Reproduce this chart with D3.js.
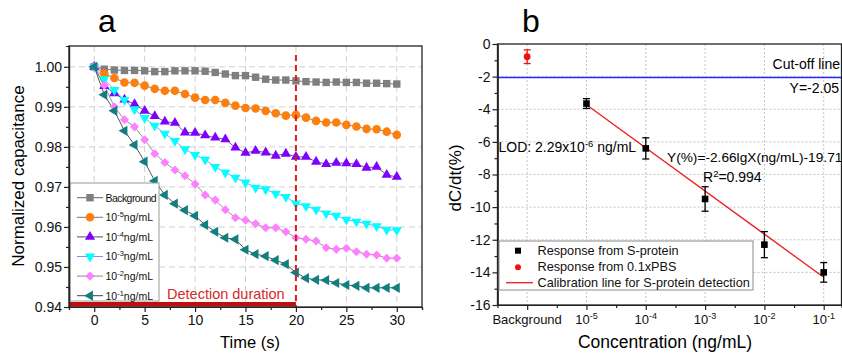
<!DOCTYPE html>
<html>
<head>
<meta charset="utf-8">
<script src="https://cdn.jsdelivr.net/npm/d3@7"></script>
<style>
body { margin: 0; background: #fff; }
svg { display: block; font-family: "Liberation Sans", Arial, sans-serif; }
</style>
</head>
<body>
<svg id="chart" width="842" height="358"></svg>
<script>
// ---------- panel a data ----------
const times = [0, 1, 2, 3, 4, 5, 6, 7, 8, 9, 10, 11, 12, 13, 14, 15, 16, 17, 18, 19, 20, 21, 22, 23, 24, 25, 26, 27, 28, 29, 30]
const seriesNames = ["Background", "-5", "-4", "-3", "-2", "-1"]
const backgroundVals = [1.0000, 0.9994, 0.9992, 0.9991, 0.9991, 0.9990, 0.9988, 0.9988, 0.9990, 0.9990, 0.9990, 0.9989, 0.9986, 0.9982, 0.9978, 0.9978, 0.9974, 0.9969, 0.9967, 0.9967, 0.9965, 0.9963, 0.9962, 0.9961, 0.9962, 0.9961, 0.9961, 0.9959, 0.9959, 0.9958, 0.9957]
const conc5Vals = [1.0000, 0.9983, 0.9972, 0.9961, 0.9960, 0.9953, 0.9945, 0.9940, 0.9940, 0.9932, 0.9923, 0.9917, 0.9917, 0.9910, 0.9903, 0.9897, 0.9896, 0.9890, 0.9884, 0.9878, 0.9880, 0.9873, 0.9865, 0.9861, 0.9861, 0.9855, 0.9851, 0.9845, 0.9844, 0.9838, 0.9830]
const conc4Vals = [1.0000, 0.9952, 0.9934, 0.9918, 0.9907, 0.9890, 0.9877, 0.9863, 0.9860, 0.9836, 0.9835, 0.9829, 0.9823, 0.9819, 0.9798, 0.9785, 0.9790, 0.9786, 0.9778, 0.9783, 0.9775, 0.9775, 0.9763, 0.9757, 0.9760, 0.9759, 0.9757, 0.9748, 0.9750, 0.9730, 0.9725]
const conc3Vals = [1.0000, 0.9969, 0.9942, 0.9917, 0.9894, 0.9872, 0.9853, 0.9833, 0.9815, 0.9794, 0.9780, 0.9768, 0.9750, 0.9736, 0.9723, 0.9711, 0.9698, 0.9694, 0.9683, 0.9675, 0.9659, 0.9652, 0.9643, 0.9634, 0.9628, 0.9618, 0.9613, 0.9608, 0.9602, 0.9593, 0.9592]
const conc2Vals = [1.0000, 0.9954, 0.9900, 0.9868, 0.9850, 0.9818, 0.9783, 0.9761, 0.9742, 0.9728, 0.9707, 0.9680, 0.9667, 0.9643, 0.9623, 0.9617, 0.9608, 0.9598, 0.9598, 0.9588, 0.9573, 0.9569, 0.9565, 0.9548, 0.9544, 0.9547, 0.9538, 0.9532, 0.9530, 0.9522, 0.9522]
const conc1Vals = [1.0000, 0.9930, 0.9890, 0.9840, 0.9805, 0.9763, 0.9715, 0.9680, 0.9658, 0.9642, 0.9628, 0.9605, 0.9588, 0.9573, 0.9569, 0.9543, 0.9532, 0.9527, 0.9517, 0.9507, 0.9486, 0.9472, 0.9468, 0.9467, 0.9460, 0.9455, 0.9453, 0.9448, 0.9448, 0.9448, 0.9448]
const detectionEnd = 20
const timeTicks = [0, 5, 10, 15, 20, 25, 30]
const capTicks = [0.94, 0.95, 0.96, 0.97, 0.98, 0.99, 1.00]

// ---------- panel b data ----------
const concExponents = [null, -5, -4, -3, -2, -1]   // index 0 = Background
const sProteinIdx = [1, 2, 3, 4, 5]
const sProteinMean = [-3.65, -6.4, -9.5, -12.3, -14.0]
const sProteinErr = [0.3, 0.65, 0.75, 0.8, 0.6]
const pbsIdx = [0]
const pbsMean = [-0.78]
const pbsErr = [0.42]
const calibIdx = [1, 5]
const calibVals = [-3.73, -14.3]
const cutoff = -2.05
const dcTicks = [0, -2, -4, -6, -8, -10, -12, -14, -16]

// ---------- styles ----------
const markerColors = ["#7f7f7f", "#ff7f0e", "#7f00ff", "#00ffff", "#ff80ff", "#117f7f"]
const lineColors = ["#666", "#777", "#555", "#8a8aff", "#888", "#444"]
const shapes = ["square", "circle", "up", "down", "diamond", "left"]

const svg = d3.select("#chart")

const drawMarker = (g, shape, color) => {
    if (shape === "square") {
        g.append("rect").attr("x", -3.7).attr("y", -3.7).attr("width", 7.4).attr("height", 7.4).attr("fill", color)
    } else if (shape === "circle") {
        g.append("circle").attr("r", 4.3).attr("fill", color)
    } else if (shape === "diamond") {
        g.append("rect").attr("x", -3.2).attr("y", -3.2).attr("width", 6.4).attr("height", 6.4)
            .attr("transform", "rotate(45)").attr("fill", color)
    } else {
        const rot = {up: 0, down: 180, left: -90}[shape]
        g.append("path").attr("d", d3.symbol(d3.symbolTriangle, 45)()).attr("transform", `rotate(${rot})`).attr("fill", color)
    }
}

// ================= panel a =================
const xA = d3.scaleLinear().domain([-2.5, 32.5]).range([69, 422])
const yA = d3.scaleLinear().domain([0.94, 1.0052]).range([307, 46])
const gA = svg.append("g")

gA.append("g").selectAll("line").data(timeTicks).join("line")
    .attr("x1", d => xA(d)).attr("x2", d => xA(d)).attr("y1", yA.range()[1]).attr("y2", yA.range()[0])
    .attr("stroke", "#d0d0d0").attr("stroke-dasharray", "6,4")
gA.append("g").selectAll("line").data(capTicks.slice(1)).join("line")
    .attr("x1", xA.range()[0]).attr("x2", xA.range()[1]).attr("y1", d => yA(d)).attr("y2", d => yA(d))
    .attr("stroke", "#d0d0d0").attr("stroke-dasharray", "6,4")

const seriesA = [backgroundVals, conc5Vals, conc4Vals, conc3Vals, conc2Vals, conc1Vals]
const lineA = d3.line().x((d, i) => xA(times[i])).y(d => yA(d))

seriesA.forEach((vals, s) => {
    gA.append("path").datum(vals).attr("d", lineA)
        .attr("fill", "none").attr("stroke", lineColors[s]).attr("stroke-width", 0.9)
})
seriesA.forEach((vals, s) => {
    gA.append("g").selectAll("g").data(vals).join("g")
        .attr("transform", (d, i) => `translate(${xA(times[i])},${yA(d)})`)
        .each(function () { drawMarker(d3.select(this), shapes[s], markerColors[s]) })
})

// detection duration
gA.append("line")
    .attr("x1", xA(detectionEnd)).attr("x2", xA(detectionEnd)).attr("y1", 55).attr("y2", yA(0.94))
    .attr("stroke", "#dd1c1c").attr("stroke-width", 2).attr("stroke-dasharray", "6,4")
gA.append("rect")
    .attr("x", xA(-2.5)).attr("y", 302).attr("width", xA(detectionEnd) - xA(-2.5)).attr("height", 4.5)
    .attr("fill", "#c00d0d")
gA.append("text").attr("x", 167).attr("y", 298.5).attr("fill", "#d42a2a")
    .attr("font-size", 14.5).text("Detection duration")

// legend a
const legA = gA.append("g")
legA.append("rect").attr("x", 70).attr("y", 183).attr("width", 89).attr("height", 118)
    .attr("fill", "#fff").attr("stroke", "#9a9a9a").attr("stroke-width", 1)
seriesNames.forEach((name, s) => {
    const cy = 197.7 + s * 19.6
    legA.append("line").attr("x1", 77).attr("x2", 103).attr("y1", cy).attr("y2", cy)
        .attr("stroke", lineColors[s]).attr("stroke-width", 1)
    drawMarker(legA.append("g").attr("transform", `translate(90,${cy})`), shapes[s], markerColors[s])
    const t = legA.append("text").attr("x", 105.5).attr("y", cy + 3.8).attr("font-size", 10.5).attr("fill", "#111")
    if (s === 0) t.attr("textLength", 51).text(name)
    else {
        t.append("tspan").text("10")
        t.append("tspan").attr("dy", -4).attr("font-size", 7.5).text(name)
        t.append("tspan").attr("dy", 4).text("ng/mL")
    }
})

// axes a
const axBottomA = gA.append("g").attr("transform", `translate(0,${yA(0.94)})`)
    .call(d3.axisBottom(xA).tickValues(timeTicks).tickSize(5).tickSizeOuter(0).tickPadding(3))
axBottomA.append("g").call(d3.axisBottom(xA).tickValues([-2.5, 2.5, 7.5, 12.5, 17.5, 22.5, 27.5, 32.5]).tickSize(3).tickFormat(""))
const axLeftA = gA.append("g").attr("transform", `translate(${xA(-2.5)},0)`)
    .call(d3.axisLeft(yA).tickValues(capTicks).tickFormat(d3.format(".2f")).tickSize(5).tickSizeOuter(0).tickPadding(2))
axLeftA.append("g").call(d3.axisLeft(yA).tickValues([0.945, 0.955, 0.965, 0.975, 0.985, 0.995]).tickSize(3).tickFormat(""))
gA.append("rect").attr("x", xA(-2.5)).attr("y", yA(1.0052)).attr("width", xA(32.5) - xA(-2.5)).attr("height", yA(0.94) - yA(1.0052))
    .attr("fill", "none").attr("stroke", "#222").attr("stroke-width", 1.3)

gA.append("text").attr("x", 250).attr("y", 348).attr("text-anchor", "middle").attr("font-size", 16.5).text("Time (s)")
gA.append("text").attr("transform", "translate(23.5,176) rotate(-90)").attr("text-anchor", "middle")
    .attr("font-size", 17).text("Normalized capacitance")
gA.append("text").attr("x", 107).attr("y", 32).attr("text-anchor", "middle").attr("font-size", 32).text("a")

// ================= panel b =================
const xB = d3.scaleLinear().domain([-0.5, 5.3]).range([497.5, 841.5])
const yB = d3.scaleLinear().domain([-16, 0]).range([305, 44])
const gB = svg.append("g")

gB.append("g").selectAll("line").data(concExponents.map((d, i) => i)).join("line")
    .attr("x1", d => xB(d)).attr("x2", d => xB(d)).attr("y1", yB(0)).attr("y2", yB(-16))
    .attr("stroke", "#c4c4c4").attr("stroke-dasharray", "2,2")
gB.append("g").selectAll("line").data(dcTicks.slice(1, -1)).join("line")
    .attr("x1", xB(-0.5)).attr("x2", xB(5.3)).attr("y1", d => yB(d)).attr("y2", d => yB(d))
    .attr("stroke", "#c4c4c4").attr("stroke-dasharray", "2,2")

// cut-off line
gB.append("line").attr("x1", xB(-0.5)).attr("x2", xB(5.3)).attr("y1", yB(cutoff)).attr("y2", yB(cutoff))
    .attr("stroke", "#2b2bff").attr("stroke-width", 1.6)

// calibration line
gB.append("path").datum(calibIdx.map((d, i) => [d, calibVals[i]]))
    .attr("d", d3.line().x(d => xB(d[0])).y(d => yB(d[1])))
    .attr("stroke", "#ee1c1c").attr("stroke-width", 1.3).attr("fill", "none")

const errBars = (idx, mean, err, color, shape) => {
    idx.forEach((c, i) => {
        const x = xB(c)
        const g = gB.append("g").attr("stroke", color).attr("stroke-width", 1.3)
        g.append("line").attr("x1", x).attr("x2", x).attr("y1", yB(mean[i] + err[i])).attr("y2", yB(mean[i] - err[i]))
        g.append("line").attr("x1", x - 3.5).attr("x2", x + 3.5).attr("y1", yB(mean[i] + err[i])).attr("y2", yB(mean[i] + err[i]))
        g.append("line").attr("x1", x - 3.5).attr("x2", x + 3.5).attr("y1", yB(mean[i] - err[i])).attr("y2", yB(mean[i] - err[i]))
        const m = gB.append("g").attr("transform", `translate(${x},${yB(mean[i])})`)
        if (shape === "square") m.append("rect").attr("x", -3.3).attr("y", -3.3).attr("width", 6.6).attr("height", 6.6).attr("fill", color)
        else m.append("circle").attr("r", 3.4).attr("fill", color)
    })
}
errBars(sProteinIdx, sProteinMean, sProteinErr, "#000", "square")
errBars(pbsIdx, pbsMean, pbsErr, "#ee1111", "circle")

// axes b
const axBottomB = gB.append("g").attr("transform", `translate(0,${yB(-16)})`)
    .call(d3.axisBottom(xB).tickValues(concExponents.map((d, i) => i)).tickSize(5).tickSizeOuter(0).tickFormat(""))
axBottomB.append("g").call(d3.axisBottom(xB).tickValues([0.5, 1.5, 2.5, 3.5, 4.5]).tickSize(3).tickFormat(""))
concExponents.forEach((e, i) => {
    const t = gB.append("text").attr("x", xB(i)).attr("y", 324).attr("text-anchor", "middle").attr("font-size", 13).attr("fill", "#111")
    if (e === null) t.text("Background")
    else {
        t.append("tspan").text("10")
        t.append("tspan").attr("dy", -5).attr("font-size", 9).text(String(e))
    }
})
const axLeftB = gB.append("g").attr("transform", `translate(${xB(-0.5)},0)`)
    .call(d3.axisLeft(yB).tickValues(dcTicks).tickFormat(d => String(d)).tickSize(5).tickSizeOuter(0).tickPadding(2))
axLeftB.append("g").call(d3.axisLeft(yB).tickValues([-1, -3, -5, -7, -9, -11, -13, -15]).tickSize(3).tickFormat(""))
gB.append("rect").attr("x", xB(-0.5)).attr("y", yB(0)).attr("width", xB(5.3) - xB(-0.5)).attr("height", yB(-16) - yB(0))
    .attr("fill", "none").attr("stroke", "#222").attr("stroke-width", 1.3)

// annotations b
gB.append("text").attr("x", 840).attr("y", 69).attr("text-anchor", "end").attr("font-size", 14).text("Cut-off line")
gB.append("text").attr("x", 839).attr("y", 93).attr("text-anchor", "end").attr("font-size", 14).text("Y=-2.05")
const lod = gB.append("text").attr("x", 498.5).attr("y", 152).attr("font-size", 14)
lod.append("tspan").text("LOD: 2.29x10")
lod.append("tspan").attr("dy", -5).attr("font-size", 9.5).text("-6")
lod.append("tspan").attr("dy", 5).text(" ng/mL")
gB.append("text").attr("x", 667).attr("y", 162).attr("font-size", 13.7).text("Y(%)=-2.66lgX(ng/mL)-19.71")
const r2 = gB.append("text").attr("x", 703).attr("y", 182).attr("font-size", 14)
r2.append("tspan").text("R")
r2.append("tspan").attr("dy", -5).attr("font-size", 9.5).text("2")
r2.append("tspan").attr("dy", 5).text("=0.994")

// legend b
const legB = gB.append("g")
legB.append("rect").attr("x", 499).attr("y", 241).attr("width", 254).attr("height", 49)
    .attr("fill", "#fff").attr("stroke", "#8a8a8a").attr("stroke-width", 1)
legB.append("rect").attr("x", 515).attr("y", 247.7).attr("width", 6).attr("height", 6).attr("fill", "#000")
legB.append("circle").attr("cx", 518).attr("cy", 267.3).attr("r", 3).attr("fill", "#ee1111")
legB.append("line").attr("x1", 506).attr("x2", 533).attr("y1", 282.7).attr("y2", 282.7).attr("stroke", "#ee1c1c").attr("stroke-width", 1.3)
const legBText = ["Response from S-protein", "Response from 0.1xPBS", "Calibration line for S-protein detection"]
legBText.forEach((t, i) => {
    legB.append("text").attr("x", 537.5).attr("y", 255.2 + i * 16.1).attr("font-size", 12.7).attr("fill", "#111").text(t)
})

gB.append("text").attr("x", 665).attr("y", 348).attr("text-anchor", "middle").attr("font-size", 17.5).text("Concentration (ng/mL)")
gB.append("text").attr("transform", "translate(460.5,178) rotate(-90)").attr("text-anchor", "middle")
    .attr("font-size", 17).text("dC/dt(%)")
gB.append("text").attr("x", 531).attr("y", 32).attr("text-anchor", "middle").attr("font-size", 32).text("b")

svg.selectAll(".tick text").attr("font-size", 14).attr("fill", "#111").attr("font-family", "Liberation Sans, Arial, sans-serif")
svg.selectAll(".domain, .tick line").attr("stroke", "#222").attr("stroke-width", 1.2)
</script>
</body>
</html>
